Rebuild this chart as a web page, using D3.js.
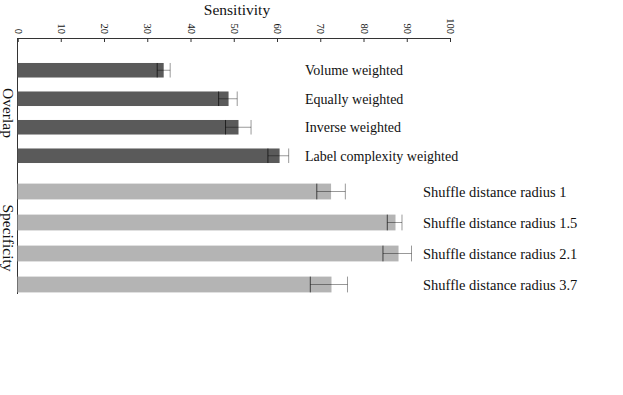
<!DOCTYPE html>
<html>
<head>
<meta charset="utf-8">
<script src="https://cdn.jsdelivr.net/npm/d3@7"></script>
<style>
  body { margin: 0; background: #fff; }
  text { font-family: "Liberation Serif", serif; fill: #111; }
</style>
</head>
<body>
<svg id="chart" width="623" height="395"></svg>
<script>
// overlap group
let overlapNames = ["Volume weighted", "Equally weighted", "Inverse weighted", "Label complexity weighted"];
let overlapMean = [33.8, 48.8, 51.1, 60.6];
let overlapLow = [32.3, 46.5, 48.1, 57.9];
let overlapHigh = [35.3, 50.8, 54.0, 62.7];

// specificity group
let specNames = ["Shuffle distance radius 1", "Shuffle distance radius 1.5", "Shuffle distance radius 2.1", "Shuffle distance radius 3.7"];
let specMean = [72.5, 87.4, 88.1, 72.6];
let specLow = [69.2, 85.5, 84.5, 67.7];
let specHigh = [75.8, 88.9, 91.1, 76.3];

let ticks = [0, 10, 20, 30, 40, 50, 60, 70, 80, 90, 100];

let svg = d3.select("#chart");

let x = d3.scaleLinear().domain([0, 100]).range([17.5, 450]);

let groups = [
  { name: "Overlap", names: overlapNames, mean: overlapMean, low: overlapLow, high: overlapHigh,
    range: [56, 170], color: "#5a5a5a", labelX: 305, fs: 14 },
  { name: "Specificity", names: specNames, mean: specMean, low: specLow, high: specHigh,
    range: [176, 300], color: "#b4b4b4", labelX: 423, fs: 14.5 }
];

// axis on top
let axis = d3.axisBottom(x).tickValues(ticks).tickSize(4).tickSizeOuter(4);
let ax = svg.append("g").attr("transform", "translate(0,38)").call(axis);
ax.select(".domain").attr("stroke", "#333");
ax.selectAll(".tick line").attr("stroke", "#333");
ax.selectAll(".tick text")
  .attr("transform", "rotate(90)")
  .attr("x", -4)
  .attr("y", 0)
  .attr("dy", "0.32em")
  .style("text-anchor", "end")
  .style("font-size", "10.5px")
  .style("font-family", "Liberation Serif, serif")
  .attr("fill", "#222");

svg.append("text")
  .attr("x", 237)
  .attr("y", 15)
  .attr("text-anchor", "middle")
  .style("font-size", "15.5px")
  .text("Sensitivity");

// left vertical line
svg.append("line")
  .attr("x1", x(0)).attr("x2", x(0))
  .attr("y1", 38).attr("y2", 294)
  .attr("stroke", "#333");

groups.forEach((g) => {
  let y = d3.scaleBand().domain(g.names).range(g.range).paddingInner(0.49).paddingOuter(0.245);
  let rows = g.names.map((n, i) => ({ name: n, mean: g.mean[i], low: g.low[i], high: g.high[i] }));

  let gg = svg.append("g");

  gg.selectAll(".bar")
    .data(rows)
    .join("rect")
    .attr("class", "bar")
    .attr("x", x(0))
    .attr("y", (d) => y(d.name))
    .attr("width", (d) => x(d.mean) - x(0))
    .attr("height", y.bandwidth())
    .attr("fill", g.color);

  let err = gg.selectAll(".err")
    .data(rows)
    .join("g")
    .attr("class", "err")
    .attr("stroke", "#000")
    .attr("stroke-opacity", 0.4)
    .attr("stroke-width", 1);

  err.append("line")
    .attr("x1", (d) => x(d.low))
    .attr("x2", (d) => x(d.high))
    .attr("y1", (d) => y(d.name) + y.bandwidth() / 2)
    .attr("y2", (d) => y(d.name) + y.bandwidth() / 2);
  err.append("line")
    .attr("x1", (d) => x(d.low))
    .attr("x2", (d) => x(d.low))
    .attr("y1", (d) => y(d.name))
    .attr("y2", (d) => y(d.name) + y.bandwidth())
    .attr("stroke-opacity", 0.65);
  err.append("line")
    .attr("x1", (d) => x(d.high))
    .attr("x2", (d) => x(d.high))
    .attr("y1", (d) => y(d.name))
    .attr("y2", (d) => y(d.name) + y.bandwidth());

  gg.selectAll(".lbl")
    .data(rows)
    .join("text")
    .attr("class", "lbl")
    .attr("x", g.labelX)
    .attr("y", (d) => y(d.name) + y.bandwidth() / 2)
    .attr("dy", "0.35em")
    .style("font-size", g.fs + "px")
    .text((d) => d.name);

  let mid = (g.range[0] + g.range[1]) / 2;
  svg.append("text")
    .attr("transform", `translate(3,${mid}) rotate(90)`)
    .attr("text-anchor", "middle")
    .style("font-size", "15.5px")
    .text(g.name);
});
</script>
</body>
</html>
